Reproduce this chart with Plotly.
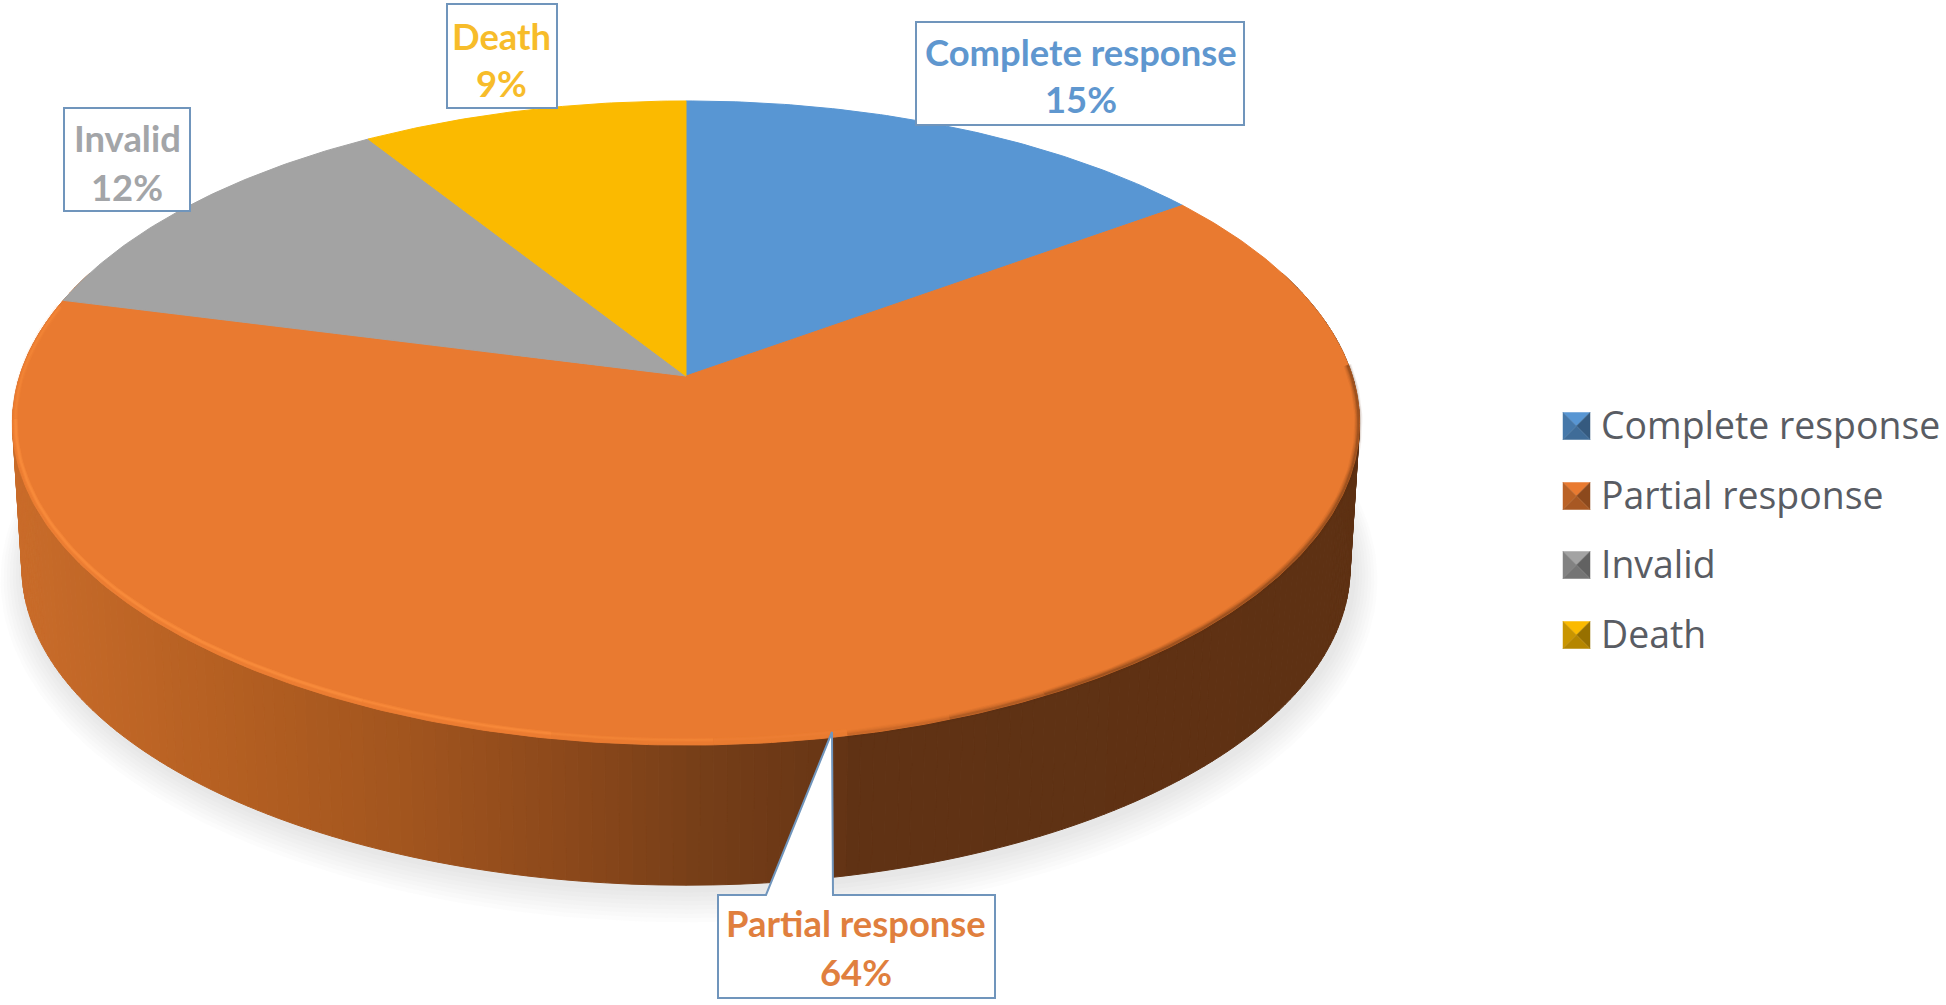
import numpy as np
import plotly.graph_objects as go

categories = ["Complete response", "Partial response", "Invalid", "Death"]
percent = [15, 64, 12, 9]
top_colors = ["#5896D3", "#E97A30", "#A3A3A3", "#FBBA00"]
text_colors = ["#5F97CF", "#E07F3E", "#A3A5A8", "#F7BC2A"]

W, H = 1946, 1005
K = 0.146
AX, AY, A, B = 686.0, 376.0, 666.3, 315.2      # top face projection
AY2, A2, B2 = 521.0, 657.0, 311.0              # bottom face projection


def proj(theta_deg, ax=AX, ay=AY, a=A, b=B):
    t = np.radians(theta_deg)
    u, v = np.sin(t), np.cos(t)
    d = 1 + K * v
    return ax + a * u / d, ay - b * v / d


def rgb_hex(c):
    return "#%02x%02x%02x" % tuple(int(round(x)) for x in c)


def scale(hexc, f):
    r, g, b = int(hexc[1:3], 16), int(hexc[3:5], 16), int(hexc[5:7], 16)
    return rgb_hex((min(255, r * f), min(255, g * f), min(255, b * f)))


fig = go.Figure()

# soft shadow beneath the disc
for s in np.arange(24, 0, -3):
    th = np.linspace(0, 360, 241)
    x, y = proj(th, AX + 3, AY2 + 3 + s * 0.25, A2 + s, B2 + s)
    fig.add_trace(go.Scatter(x=x, y=y, mode="lines", fill="toself", line=dict(width=0),
                             fillcolor="rgba(135,138,148,0.028)", showlegend=False, hoverinfo="skip"))

# side wall, shaded across its width
wall_x = [10, 250, 420, 600, 700, 830, 850, 1370]
wall_r = [202, 178, 160, 135, 118, 104, 96, 94]
wall_g = [108, 94, 84, 70, 62, 54, 50, 49]
wall_b = [42, 33, 30, 26, 24, 21, 20, 19]
edges = np.linspace(70, 290, 221)
for t0, t1 in zip(edges[:-1], edges[1:]):
    tm = np.linspace(t0, t1, 3)
    xt, yt = proj(tm)
    xb, yb = proj(tm, AX, AY2, A2, B2)
    xm = (xt.mean() + xb.mean()) / 2
    col = rgb_hex((np.interp(xm, wall_x, wall_r), np.interp(xm, wall_x, wall_g), np.interp(xm, wall_x, wall_b)))
    fig.add_trace(go.Scatter(x=np.r_[xt, xb[::-1], xt[0]], y=np.r_[yt, yb[::-1], yt[0]], mode="lines",
                             fill="toself", fillcolor=col, line=dict(width=1, color=col),
                             showlegend=False, hoverinfo="skip"))

# top face slices, from the values
start = 0.0
for name, val, col in zip(categories, percent, top_colors):
    end = start + val * 3.6
    th = np.linspace(start, end, max(8, int(val * 6)))
    x, y = proj(th)
    fig.add_trace(go.Scatter(x=np.r_[AX, x, AX], y=np.r_[AY, y, AY], mode="lines", fill="toself",
                             fillcolor=col, line=dict(width=1, color=col), name=name,
                             text=f"{name}: {val}%", hoverinfo="text", showlegend=False))
    start = end

# rim: bright bevel on the lit side, dark soft edge on the shaded side
rim = [(283, 262, 0.35), (262, 205, 0.7), (205, 190, 0.6), (190, 178, 0.35), (178, 168, 0.15)]
for t0, t1, op in rim:
    th = np.linspace(t0, t1, 60)
    for inset, w, f in [(2, 7, 0.25), (3, 4, 0.55), (3, 2, 0.8)]:
        x, y = proj(th, AX, AY - inset / 2, A - inset, B - inset)
        fig.add_trace(go.Scatter(x=x, y=y, mode="lines", line=dict(width=w, color=f"rgba(252,142,62,{op * f})"),
                                 showlegend=False, hoverinfo="skip"))
dark_edge = [(168, 160, 0.35), (160, 152, 0.7), (152, 88, 1.0)]
for t0, t1, fade in dark_edge:
    th = np.linspace(t0, t1, 80)
    for w, op in [(8, 0.07), (6, 0.12), (4, 0.18), (2, 0.3)]:
        x, y = proj(th, AX, AY, A - 1, B - 1)
        fig.add_trace(go.Scatter(x=x, y=y, mode="lines", line=dict(width=w, color=f"rgba(95,49,19,{op * fade})"),
                                 showlegend=False, hoverinfo="skip"))

BOX = "#7095BC"
shapes = []
for x0, y0, x1, y1 in [(916, 22, 1244, 125), (447, 4, 557, 108), (64, 108, 190, 211)]:
    shapes.append(dict(type="rect", xref="x", yref="y", x0=x0, y0=y0, x1=x1, y1=y1,
                       fillcolor="white", line=dict(color=BOX, width=2), layer="above"))
shapes.append(dict(type="path", xref="x", yref="y",
                   path="M718,895 L766,895 L832,732 L833,895 L995,895 L995,998 L718,998 Z",
                   fillcolor="white", line=dict(color=BOX, width=2), layer="above"))

# legend swatches (bevelled) and text
lx0, lsize = 1563, 27
rows = [426, 496, 565, 635]
for col, cy in zip(top_colors, rows):
    x0, x1, y0, y1 = lx0, lx0 + lsize, cy - lsize / 2, cy + lsize / 2
    xc, yc = (x0 + x1) / 2, (y0 + y1) / 2
    tri = [((x0, y0), (x1, y0), 1.0), ((x0, y0), (x0, y1), 0.8), ((x1, y0), (x1, y1), 0.6), ((x0, y1), (x1, y1), 0.72)]
    for (xa, ya), (xb, yb), f in tri:
        c = scale(col, f)
        shapes.append(dict(type="path", xref="x", yref="y", path=f"M{xa},{ya} L{xb},{yb} L{xc},{yc} Z",
                           fillcolor=c, line=dict(color=c, width=0.5), layer="above"))

ann = []
label_pos = [(1081, 52, 99), (856, 923, 972), (127, 138, 187), (501, 36, 83)]
for name, val, col, (cx, y1, y2) in zip(categories, percent, text_colors, label_pos):
    for txt, yy in ((name, y1), (f"{val}%", y2)):
        ann.append(dict(x=cx, y=yy, xref="x", yref="y", text=f"<b>{txt}</b>", showarrow=False,
                        xanchor="center", yanchor="middle",
                        font=dict(family="Lato", size=36.4, color=col)))
for name, cy in zip(categories, rows):
    ann.append(dict(x=1599, y=cy - 2, xref="x", yref="y", text=name, showarrow=False,
                    xanchor="left", yanchor="middle",
                    font=dict(family="Open Sans", size=37.4, color="#595C63")))

fig.update_layout(
    width=W, height=H, margin=dict(l=0, r=0, t=0, b=0),
    paper_bgcolor="white", plot_bgcolor="white", showlegend=False,
    xaxis=dict(range=[0, W], visible=False, fixedrange=True),
    yaxis=dict(range=[H, 0], visible=False, fixedrange=True),
    shapes=shapes, annotations=ann,
)
fig.write_html("out.html", config=dict(displayModeBar=False),
               post_script="document.body.style.margin='0';document.body.style.overflow='hidden';")
